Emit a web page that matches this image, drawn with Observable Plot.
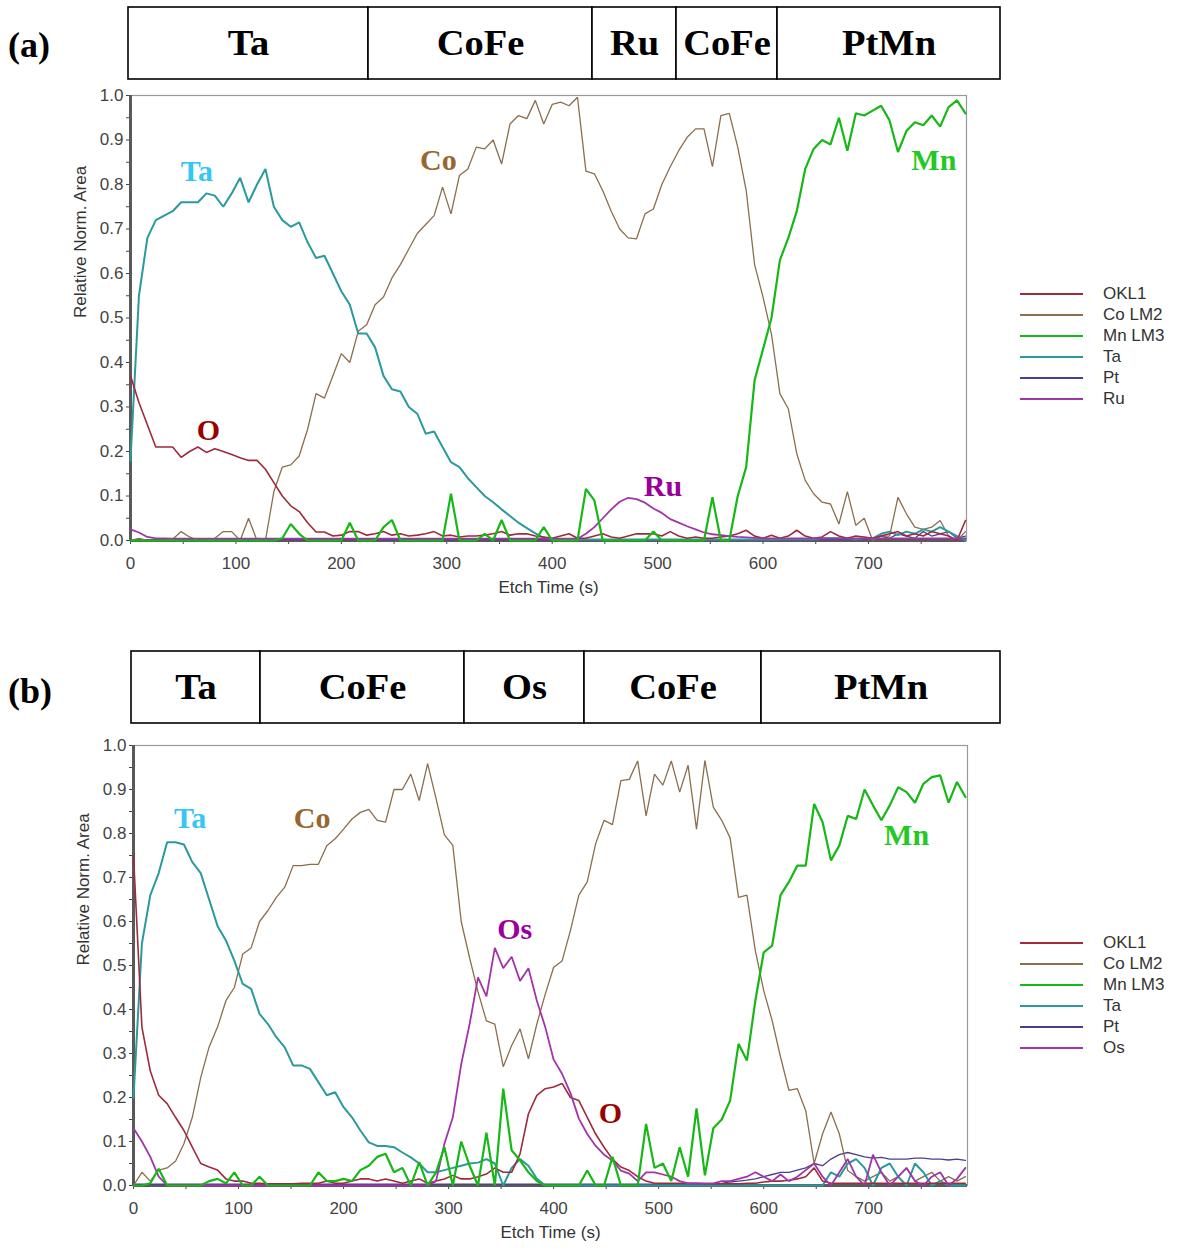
<!DOCTYPE html>
<html>
<head>
<meta charset="utf-8">
<script src="https://cdn.jsdelivr.net/npm/d3@7"></script>
<script src="https://cdn.jsdelivr.net/npm/@observablehq/plot@0.6"></script>
<style>
  html, body { margin: 0; padding: 0; background: #ffffff; }
  #page { position: relative; width: 1177px; height: 1252px; overflow: hidden; background: #ffffff; }
  .panel-tag { font-family: "Liberation Serif", "Times New Roman", serif; font-weight: bold; font-size: 36px; color: #000; }
  .legend { font-family: "Liberation Sans", Arial, sans-serif; font-size: 17px; color: #333; }
  .legend .row { position: absolute; left: 0; height: 21px; display: flex; align-items: center; white-space: nowrap; }
  .legend svg { display: block; margin-right: 20px; }
</style>
</head>
<body>
<div id="page"></div>
<script>
// ---------------- DATA ----------------
// sample times (s): one spectrum every 8 s of etching
const etchTime = d3.range(0, 800, 8);

// Layer stacks (relative widths of the schematic boxes)
const layersA = ["Ta", "CoFe", "Ru", "CoFe", "PtMn"];
const layerWidthsA = [240, 224, 84, 101, 223];
const layersB = ["Ta", "CoFe", "Os", "CoFe", "PtMn"];
const layerWidthsB = [129, 204, 120, 177, 239];

// ---- Panel (a) ----
const a_OKL1 = [0.37,0.31,0.26,0.21,0.21,0.21,0.187,0.20,0.21,0.198,
  0.206,0.20,0.193,0.186,0.18,0.18,0.16,0.13,0.10,0.078,
  0.065,0.04,0.019,0.019,0.01,0.012,0.02,0.02,0.012,0.015,
  0.02,0.012,0.015,0.01,0.012,0.015,0.02,0.01,0.012,0.008,
  0.01,0.01,0.012,0.015,0.02,0.012,0.015,0.015,0.01,0.008,
  0.005,0.01,0.015,0.005,0.005,0.01,0.015,0.008,0.005,0.01,
  0.015,0.015,0.015,0.01,0.02,0.01,0.005,0.008,0.005,0.005,
  0.008,0.01,0.015,0.023,0.01,0.005,0.012,0.005,0.01,0.023,
  0.01,0.005,0.008,0.02,0.01,0.005,0.01,0.008,0.005,0.01,
  0.015,0.02,0.01,0.015,0.01,0.02,0.015,0.01,0.0,0.045];
const a_CoLM2 = [0.0,0.005,0.0,0.0,0.0,0.003,0.02,0.008,0.0,0.0,
  0.005,0.02,0.02,0.0,0.05,0.0,0.0,0.11,0.165,0.17,
  0.19,0.25,0.33,0.32,0.37,0.42,0.40,0.47,0.485,0.53,
  0.547,0.59,0.62,0.655,0.69,0.71,0.73,0.794,0.734,0.82,
  0.835,0.884,0.88,0.90,0.846,0.936,0.955,0.948,0.989,0.936,
  0.98,0.985,0.977,0.996,0.83,0.824,0.786,0.74,0.70,0.68,
  0.678,0.734,0.745,0.80,0.84,0.876,0.906,0.925,0.925,0.84,
  0.955,0.96,0.884,0.787,0.62,0.547,0.464,0.33,0.296,0.195,
  0.135,0.105,0.086,0.082,0.037,0.11,0.034,0.05,0.0,0.01,
  0.01,0.097,0.06,0.03,0.025,0.03,0.045,0.01,0.0,0.02];
const a_MnLM3 = [0,0,0,0,0,0,0,0,0,0,
  0,0,0,0,0,0,0,0,0.005,0.037,
  0.015,0,0,0,0,0,0.04,0,0,0,
  0.03,0.046,0,0,0,0,0,0,0.105,0,
  0,0,0.015,0,0.046,0,0,0,0,0.03,
  0,0,0,0,0.116,0.09,0,0,0,0,
  0,0,0.02,0,0,0,0,0,0,0.097,
  0,0,0.1,0.165,0.36,0.43,0.50,0.63,0.68,0.74,
  0.835,0.88,0.90,0.89,0.95,0.876,0.96,0.955,0.966,0.977,
  0.944,0.873,0.92,0.94,0.933,0.955,0.93,0.974,0.989,0.96];
const a_Ta = [0.18,0.55,0.68,0.72,0.73,0.74,0.76,0.76,0.76,0.78,
  0.775,0.75,0.78,0.815,0.76,0.80,0.835,0.75,0.72,0.705,
  0.715,0.67,0.635,0.64,0.60,0.56,0.53,0.465,0.465,0.434,
  0.37,0.34,0.335,0.30,0.285,0.24,0.245,0.21,0.176,0.165,
  0.14,0.12,0.10,0.086,0.07,0.055,0.04,0.028,0.016,0.006,
  0.003,0.002,0.002,0.002,0.002,0.002,0.002,0.002,0.002,0.002,
  0.002,0.002,0.002,0.002,0.002,0.002,0.002,0.002,0.002,0.002,
  0.002,0.002,0.002,0.002,0.002,0.002,0.002,0.003,0.003,0.003,
  0.003,0.003,0.005,0.005,0.005,0.005,0.003,0.005,0.005,0.015,
  0.02,0.012,0.02,0.015,0.025,0.02,0.03,0.02,0.01,0.0];
const a_Pt = [0.002,0.002,0.002,0.002,0.002,0.002,0.002,0.002,0.002,0.002,
  0.002,0.002,0.002,0.002,0.002,0.002,0.002,0.002,0.002,0.002,
  0.002,0.002,0.002,0.002,0.002,0.002,0.002,0.002,0.002,0.002,
  0.002,0.002,0.002,0.002,0.002,0.002,0.002,0.002,0.002,0.002,
  0.002,0.002,0.002,0.002,0.002,0.002,0.002,0.002,0.002,0.002,
  0.002,0.002,0.002,0.002,0.002,0.002,0.002,0.002,0.002,0.002,
  0.002,0.002,0.002,0.002,0.002,0.002,0.002,0.002,0.002,0.002,
  0.002,0.002,0.002,0.002,0.002,0.002,0.002,0.002,0.002,0.002,
  0.002,0.002,0.002,0.002,0.002,0.002,0.002,0.002,0.005,0.01,
  0.005,0.015,0.01,0.005,0.02,0.01,0.015,0.02,0.005,0.01];
const a_Ru = [0.025,0.018,0.008,0.005,0.005,0.004,0.004,0.004,0.004,0.004,
  0.004,0.004,0.004,0.004,0.004,0.004,0.004,0.004,0.004,0.004,
  0.004,0.004,0.004,0.004,0.004,0.004,0.004,0.004,0.004,0.004,
  0.004,0.004,0.004,0.004,0.004,0.004,0.004,0.004,0.004,0.004,
  0.004,0.004,0.004,0.004,0.004,0.004,0.004,0.004,0.004,0.004,
  0.004,0.004,0.004,0.004,0.015,0.03,0.05,0.07,0.087,0.096,
  0.093,0.085,0.072,0.062,0.048,0.04,0.032,0.025,0.018,0.014,
  0.012,0.01,0.008,0.007,0.006,0.005,0.005,0.005,0.005,0.005,
  0.005,0.005,0.005,0.005,0.005,0.005,0.005,0.005,0.005,0.005,
  0.005,0.005,0.005,0.005,0.005,0.005,0.005,0.005,0.005,0.005];

// ---- Panel (b) ----
const b_OKL1 = [0.75,0.36,0.26,0.205,0.186,0.155,0.125,0.087,0.05,0.042,
  0.035,0.015,0.01,0.01,0.005,0.005,0.004,0.004,0.004,0.004,
  0.005,0.005,0.005,0.01,0.005,0.005,0.01,0.015,0.015,0.01,
  0.015,0.01,0.005,0.01,0.015,0.005,0.01,0.015,0.023,0.015,
  0.015,0.02,0.026,0.04,0.03,0.03,0.072,0.163,0.205,0.22,
  0.224,0.232,0.2,0.193,0.155,0.117,0.087,0.06,0.042,0.034,
  0.02,0.01,0.005,0.005,0.005,0.005,0.005,0.005,0.004,0.004,
  0.004,0.004,0.004,0.005,0.005,0.008,0.01,0.01,0.012,0.015,
  0.02,0.04,0.01,0.005,0.005,0.005,0.005,0.005,0.005,0.005,
  0.005,0.005,0.005,0.005,0.005,0.005,0.005,0.005,0.005,0.005];
const b_CoLM2 = [0.0,0.03,0.01,0.035,0.04,0.055,0.095,0.155,0.245,0.315,
  0.36,0.42,0.45,0.526,0.54,0.60,0.625,0.655,0.678,0.727,
  0.727,0.73,0.73,0.772,0.788,0.81,0.833,0.848,0.855,0.83,
  0.826,0.90,0.90,0.935,0.875,0.959,0.88,0.797,0.773,0.60,
  0.517,0.44,0.374,0.367,0.27,0.318,0.356,0.288,0.367,0.435,
  0.496,0.51,0.58,0.66,0.69,0.777,0.83,0.82,0.92,0.923,
  0.965,0.84,0.935,0.91,0.965,0.894,0.955,0.81,0.966,0.86,
  0.83,0.79,0.655,0.66,0.534,0.443,0.375,0.292,0.216,0.22,
  0.17,0.05,0.117,0.167,0.117,0.034,0.02,0.01,0.02,0.03,
  0.01,0.02,0.04,0.01,0.02,0.03,0.01,0.02,0.01,0.02];
const b_MnLM3 = [0,0,0.005,0.038,0,0,0,0,0,0.01,
  0.015,0.005,0.03,0,0,0.02,0,0,0,0,
  0,0,0.03,0.01,0.01,0.015,0.01,0.035,0.045,0.065,
  0.072,0.03,0.04,0,0.053,0,0.03,0.087,0,0.1,
  0.045,0,0.12,0,0.22,0.08,0.057,0.03,0.01,0,
  0,0,0,0,0.034,0,0,0.065,0,0,
  0,0.14,0.04,0.05,0.01,0.087,0.02,0.175,0.023,0.13,
  0.15,0.193,0.322,0.284,0.42,0.53,0.545,0.66,0.69,0.727,
  0.727,0.867,0.826,0.739,0.773,0.84,0.833,0.9,0.864,0.83,
  0.864,0.905,0.894,0.87,0.913,0.928,0.932,0.87,0.917,0.883];
const b_Ta = [0.2,0.55,0.66,0.71,0.78,0.78,0.775,0.735,0.71,0.65,
  0.59,0.557,0.511,0.458,0.447,0.39,0.367,0.337,0.314,0.273,
  0.273,0.265,0.235,0.205,0.212,0.178,0.155,0.125,0.098,0.09,
  0.09,0.087,0.075,0.064,0.05,0.03,0.03,0.035,0.04,0.045,
  0.05,0.052,0.06,0.05,0.0,0.04,0.06,0.045,0.015,0.0,
  0,0,0,0,0,0,0,0,0,0,
  0,0,0,0,0,0,0,0,0,0,
  0,0,0,0,0,0,0,0,0,0,
  0,0,0,0.03,0.02,0.05,0.06,0.04,0.0,0.04,
  0.05,0.02,0.0,0.05,0.03,0.0,0.01,0.0,0.0,0.0];
const b_Pt = [0.003,0.003,0.003,0.003,0.003,0.003,0.003,0.003,0.003,0.003,
  0.003,0.003,0.003,0.003,0.003,0.003,0.003,0.003,0.003,0.003,
  0.003,0.003,0.003,0.003,0.003,0.003,0.003,0.003,0.003,0.003,
  0.003,0.003,0.003,0.003,0.003,0.003,0.003,0.003,0.003,0.003,
  0.003,0.003,0.003,0.003,0.003,0.003,0.003,0.003,0.003,0.003,
  0.003,0.003,0.003,0.003,0.003,0.003,0.003,0.003,0.003,0.003,
  0.003,0.003,0.003,0.003,0.003,0.003,0.003,0.003,0.004,0.004,
  0.005,0.008,0.01,0.012,0.015,0.02,0.025,0.03,0.03,0.035,
  0.04,0.05,0.045,0.06,0.07,0.075,0.07,0.065,0.062,0.064,
  0.06,0.06,0.06,0.062,0.062,0.06,0.06,0.058,0.06,0.057];
const b_Os = [0.13,0.1,0.065,0.02,0.0,0,0,0,0,0,
  0,0,0,0,0,0,0,0,0,0,
  0,0,0,0,0,0,0,0,0,0,
  0,0,0,0,0,0.0,0.01,0.095,0.155,0.276,
  0.367,0.473,0.43,0.54,0.494,0.52,0.465,0.494,0.42,0.36,
  0.286,0.254,0.21,0.152,0.117,0.09,0.07,0.057,0.034,0.027,
  0.01,0.03,0.03,0.025,0.02,0.01,0.005,0.005,0.005,0.005,
  0.01,0.01,0.015,0.02,0.03,0.02,0.01,0.025,0.01,0.02,
  0.035,0.05,0.02,0.0,0.03,0.06,0.02,0.0,0.07,0.03,
  0.0,0.02,0.04,0.01,0.0,0.02,0.03,0.0,0.015,0.04];

// legend names and series colours
const namesA = ["OKL1", "Co LM2", "Mn LM3", "Ta", "Pt", "Ru"];
const namesB = ["OKL1", "Co LM2", "Mn LM3", "Ta", "Pt", "Os"];
const lineColors = ["#9e2b3a", "#8b6e4e", "#16b816", "#2a9a9c", "#4a3f8c", "#a234aa"];
const lineWidths = [1.6, 1.3, 2.2, 2, 1.3, 1.8];

// element labels drawn in the plots
const labelTextA = ["Ta", "Co", "Mn", "O", "Ru"];
const labelTimeA = [63, 292, 762, 74, 505];
const labelValueA = [0.83, 0.854, 0.854, 0.247, 0.121];
const labelTextB = ["Ta", "Co", "Os", "O", "Mn"];
const labelTimeB = [54, 170, 363, 454, 736];
const labelValueB = [0.834, 0.834, 0.582, 0.164, 0.795];
const labelColorOf = {Ta: "#36c6f4", Co: "#9a662f", Mn: "#22c922", O: "#990000", Ru: "#990099", Os: "#990099"};

// axis ticks
const yTicks = d3.range(0, 21).map(i => i / 20);
const xTicks = d3.range(0, 16).map(i => i * 50);

// ---------------- DRAWING ----------------
const page = document.getElementById("page");
const SANS = "'Liberation Sans', Arial, sans-serif";
const SERIF = "'Liberation Serif', 'Times New Roman', serif";

function place(node, left, top) {
  node.style.position = "absolute";
  node.style.left = left + "px";
  node.style.top = top + "px";
  page.appendChild(node);
}

function layerBox(names, widths, top, left, right) {
  let acc = 0;
  const rows = names.map((n, i) => { const r = {name: n, x1: acc, x2: acc + widths[i]}; acc += widths[i]; return r; });
  const svg = Plot.plot({
    width: 1177, height: 86,
    marginLeft: left, marginRight: 1177 - right, marginTop: 7, marginBottom: 7,
    x: {domain: [0, acc], axis: null},
    y: {domain: [0, 1], axis: null},
    marks: [
      Plot.rect(rows, {x1: "x1", x2: "x2", y1: 0, y2: 1, fill: "white", stroke: "#000", strokeWidth: 1.6}),
      Plot.text(rows, {x: d => (d.x1 + d.x2) / 2, y: 0.5, text: "name", fontSize: 35, fontWeight: "bold", fontFamily: SERIF, fill: "#000"})
    ]
  });
  // the schematic lettering is slightly wider than plain Times
  d3.select(svg).selectAll("text").each(function () {
    const t = this.getAttribute("transform") || "";
    this.setAttribute("transform", t + " scale(1.1,1)");
  });
  place(svg, 0, top);
}

function chart(cfg) {
  const {top, height, left, right, plotTop, plotBottom, xmax, series, labels} = cfg;
  const marks = [
    Plot.frame({fill: "white", stroke: "#999", strokeWidth: 1.2}),
    Plot.axisY(yTicks, {tickSize: 4, tickPadding: 3, tickFormat: d => (Math.round(d * 20) % 2 ? "" : d.toFixed(1)), fontSize: 17, fontFamily: SANS, fill: "#444", stroke: "#444"}),
    Plot.axisX(xTicks.filter(d => d <= xmax), {tickSize: 4, tickPadding: 12, tickFormat: d => (d % 100 ? "" : String(d)), fontSize: 17, fontFamily: SANS, fill: "#444", stroke: "#444"}),
    Plot.ruleX([0], {stroke: "#5a5a5a", strokeWidth: 3}),
    Plot.ruleY([0], {stroke: "#5a5a5a", strokeWidth: 3}),
    Plot.text(["Etch Time (s)"], {frameAnchor: "bottom", dy: 52, text: d => d, fontSize: 17, fontFamily: SANS, fill: "#333"}),
    Plot.text(["Relative Norm. Area"], {frameAnchor: "left", dx: -50, rotate: -90, text: d => d, fontSize: 17, fontFamily: SANS, fill: "#333"})
  ];
  const order = [4, 1, 3, 0, 5, 2]; // Pt, Co, Ta, O, Ru/Os, Mn on top
  for (const k of order) {
    const rows = series[k].map((v, i) => ({t: etchTime[i], v}));
    marks.push(Plot.line(rows, {x: "t", y: "v", stroke: lineColors[k], strokeWidth: lineWidths[k], strokeLinejoin: "miter"}));
  }
  const lab = labels.text.map((t, i) => ({t, x: labels.time[i], y: labels.value[i]}));
  marks.push(Plot.text(lab, {x: "x", y: "y", text: "t", fill: d => labelColorOf[d.t], fontSize: 30, fontWeight: "bold", fontFamily: SERIF}));
  const svg = Plot.plot({
    width: 1177, height,
    marginLeft: left, marginRight: 1177 - right,
    marginTop: plotTop - top, marginBottom: top + height - plotBottom,
    x: {domain: [0, xmax], axis: null},
    y: {domain: [0, 1], axis: null},
    style: {background: "transparent", fontFamily: SANS},
    marks
  });
  place(svg, 0, top);
}

function legend(names, top) {
  const box = document.createElement("div");
  box.className = "legend";
  names.forEach((n, i) => {
    const row = document.createElement("div");
    row.className = "row";
    row.style.top = (i * 21 - 10) + "px";
    row.innerHTML = `<svg width="63" height="6"><line x1="0" x2="63" y1="3" y2="3" stroke="${lineColors[i]}" stroke-width="${Math.max(2, lineWidths[i])}"/></svg><span>${n}</span>`;
    box.appendChild(row);
  });
  place(box, 1020, top);
}

function tag(text, left, top) {
  const d = document.createElement("div");
  d.className = "panel-tag";
  d.textContent = text;
  place(d, left, top);
}

// Panel (a)
tag("(a)", 8, 24);
layerBox(layersA, layerWidthsA, 0, 128, 1000);
chart({top: 80, height: 530, left: 130, right: 966, plotTop: 95, plotBottom: 540, xmax: 793,
  series: [a_OKL1, a_CoLM2, a_MnLM3, a_Ta, a_Pt, a_Ru],
  labels: {text: labelTextA, time: labelTimeA, value: labelValueA}});
legend(namesA, 293);

// Panel (b)
tag("(b)", 8, 670);
layerBox(layersB, layerWidthsB, 644, 131, 1000);
chart({top: 730, height: 522, left: 133, right: 967, plotTop: 745, plotBottom: 1185, xmax: 794,
  series: [b_OKL1, b_CoLM2, b_MnLM3, b_Ta, b_Pt, b_Os],
  labels: {text: labelTextB, time: labelTimeB, value: labelValueB}});
legend(namesB, 942);
</script>
</body>
</html>
